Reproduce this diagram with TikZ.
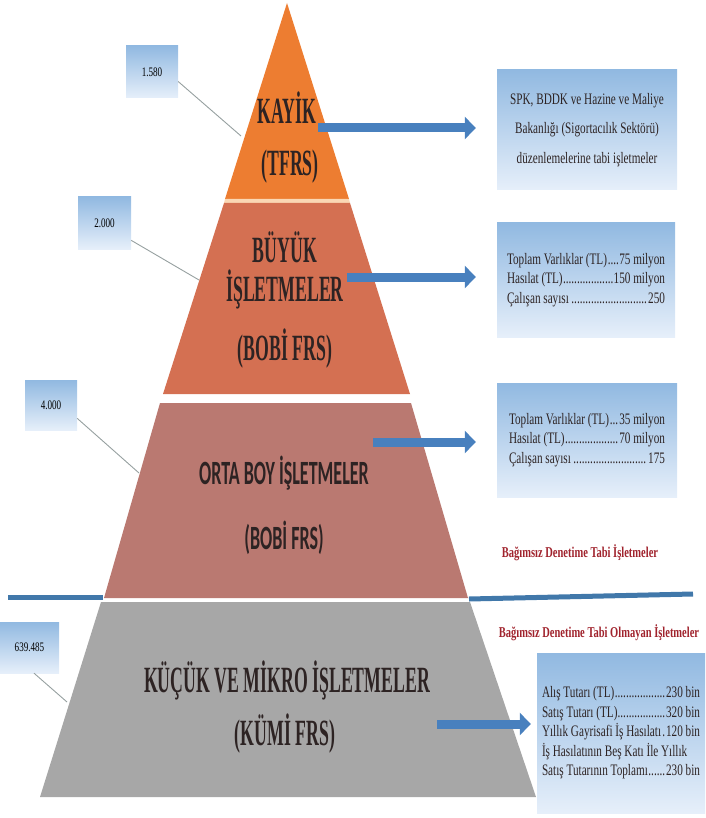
\documentclass[tikz,border=0pt]{standalone}
\usepackage{fontspec}
\usepackage{tikz}
\usetikzlibrary{positioning,arrows.meta}
\newfontfamily\layerSerif[FakeStretch=0.48]{Liberation Serif}
\newfontfamily\layerSans[FakeStretch=0.53]{Carlito}
\newfontfamily\boxSerif[FakeStretch=0.7]{Liberation Serif}
\definecolor{kayikOrange}{RGB}{237,125,49}
\definecolor{stripePeach}{RGB}{250,215,180}
\definecolor{buyukSalmon}{RGB}{212,112,82}
\definecolor{ortaRose}{RGB}{186,121,113}
\definecolor{kumiGrey}{RGB}{167,167,167}
\definecolor{boxBlue}{RGB}{145,185,225}
\definecolor{boxPale}{RGB}{230,239,250}
\definecolor{arrowBlue}{RGB}{72,128,190}
\definecolor{lineBlue}{RGB}{65,120,170}
\definecolor{leaderGrey}{RGB}{150,160,160}
\definecolor{labelRed}{RGB}{160,35,45}
\definecolor{textDark}{RGB}{45,35,35}
\tikzstyle{plan} = [x = 1pt, y = -1pt]
\tikzstyle{layerSerifText} = [text=textDark, inner sep=0pt, font=\layerSerif\bfseries\fontsize{37}{37}\selectfont]
\tikzstyle{layerSansText} = [text=textDark, inner sep=0pt, font=\layerSans\bfseries\fontsize{34}{34}\selectfont]
\tikzstyle{blueBox} = [top color=boxBlue, bottom color=boxPale, inner sep=0pt]
\tikzstyle{numberBoxStyle} = [blueBox, font=\boxSerif\fontsize{13}{13}\selectfont]
\tikzstyle{infoText} = [align=left, text=textDark, font=\boxSerif\fontsize{16}{19.5}\selectfont]
\tikzstyle{blockArrow} = [line width=9pt, arrowBlue, -{Triangle[length=11pt, width=22pt]}]
\tikzstyle{leaderLine} = [leaderGrey, line width=0.9pt]
\tikzstyle{dividerLine} = [lineBlue, line width=5pt]
\tikzstyle{auditText} = [text=labelRed, inner sep=0pt, font=\boxSerif\bfseries\fontsize{15}{15}\selectfont]
\newcommand{\layer}[2]{\fill [#1] #2 -- cycle;}
\newcommand{\numberBox}[6]{\node [numberBoxStyle, minimum width=#4, minimum height=#5] (#1) at (#2,#3) {#6};}
\newcommand{\infoBox}[6]{\node [blueBox, infoText, minimum width=#4, minimum height=#5] (#1) at (#2,#3) {#6};}
\newcommand{\dotRow}[3]{\hbox to #1{#2\leaders\hbox{.}\hfill#3}}

\begin{document}
\begin{tikzpicture}[plan]
        \useasboundingbox (0,0) rectangle (705,818);
        \layer{kayikOrange}{(287,3) -- (349,199) -- (225,199)}
        \layer{stripePeach}{(225,199) -- (349,199) -- (350,203) -- (224,203)}
        \layer{buyukSalmon}{(224,203) -- (350,203) -- (410,394) -- (163,394)}
        \layer{ortaRose}{(160,403) -- (411,403) -- (468,598) -- (104,598)}
        \layer{kumiGrey}{(101,602) -- (470,602) -- (536,797) -- (40,797)}

        \coordinate (edgeKayik) at (241,136);
        \coordinate (edgeBuyuk) at (199,280);
        \coordinate (edgeOrta) at (139,473);
        \coordinate (edgeKumi) at (67,702);
        \numberBox{nbKayik}{152}{72}{52pt}{52pt}{1.580}
        \numberBox{nbBuyuk}{104.5}{223}{53pt}{52pt}{2.000}
        \numberBox{nbOrta}{51}{405}{52pt}{50pt}{4.000}
        \numberBox{nbKumi}{29.5}{647.5}{59pt}{51pt}{639.485}
        \foreach \numberNode/\side/\edge in {nbKayik/-20/edgeKayik, nbBuyuk/-33/edgeBuyuk, nbOrta/-27/edgeOrta, nbKumi/-80/edgeKumi} {
          \draw [leaderLine] (\numberNode.\side) -- (\edge);
        }

        \coordinate (dividerLeftEnd) at (8,597);
        \coordinate (dividerLeftPyr) at (103,597);
        \coordinate (dividerRightPyr) at (469,599);
        \coordinate (dividerRightEnd) at (693,594);
        \draw [dividerLine] (dividerLeftEnd) -- (dividerLeftPyr);
        \draw [dividerLine] (dividerRightPyr) -- (dividerRightEnd);

        \infoBox{infoKayik}{587}{130}{180pt}{120pt}{\begin{tabular}{@{}c@{}}SPK, BDDK ve Hazine ve Maliye\\[10pt] Bakanlığı (Sigortacılık Sektörü)\\[10pt] düzenlemelerine tabi işletmeler\end{tabular}}
        \infoBox{infoBuyuk}{586}{280}{178pt}{114pt}{\dotRow{158pt}{Toplam Varlıklar (TL)}{75 milyon}\\ \dotRow{158pt}{Hasılat (TL)}{150 milyon}\\ \dotRow{158pt}{Çalışan sayısı}{250}}
        \infoBox{infoOrta}{587}{440}{180pt}{114pt}{\dotRow{156pt}{Toplam Varlıklar (TL)}{35 milyon}\\ \dotRow{156pt}{Hasılat (TL)}{70 milyon}\\ \dotRow{156pt}{Çalışan sayısı}{175}}
        \infoBox{infoKumi}{621}{733}{168pt}{160pt}{\dotRow{158pt}{Alış Tutarı (TL)}{230 bin}\\ \dotRow{158pt}{Satış Tutarı (TL)}{320 bin}\\ \dotRow{158pt}{Yıllık Gayrisafi İş Hasılatı}{120 bin}\\ İş Hasılatının Beş Katı İle Yıllık\\ \dotRow{158pt}{Satış Tutarının Toplamı}{230 bin}}

        \coordinate (arrowKayik) at (318,128);
        \coordinate (arrowBuyuk) at (347,277);
        \coordinate (arrowOrta) at (373,442);
        \coordinate (arrowKumi) at (437,724);
        \foreach \start/\target/\gap in {arrowKayik/infoKayik/21, arrowBuyuk/infoBuyuk/21, arrowOrta/infoOrta/21, arrowKumi/infoKumi/6} {
          \draw [blockArrow, shorten >=\gap pt] (\start) -- (\start -| \target.west);
        }

        \node [layerSerifText] (kayikName) at (287,108) {KAYİK};
        \node [layerSerifText] (kayikRule) at (290,167) {(TFRS)};
        \node [layerSerifText] (buyukName) at (285,247) {BÜYÜK};
        \node [layerSerifText] (buyukKind) at (285,289) {İŞLETMELER};
        \node [layerSerifText] (buyukRule) at (285,349) {(BOBİ FRS)};
        \node [layerSansText] (ortaName) at (284,473) {ORTA BOY İŞLETMELER};
        \node [layerSansText] (ortaRule) at (284,538) {(BOBİ FRS)};
        \node [layerSerifText] (kumiName) at (287,680) {KÜÇÜK VE MİKRO İŞLETMELER};
        \node [layerSerifText] (kumiRule) at (285,734) {(KÜMİ FRS)};

        \node [auditText] (auditYes) at (580,553) {Bağımsız Denetime Tabi İşletmeler};
        \node [auditText] (auditNo) at (599,633) {Bağımsız Denetime Tabi Olmayan İşletmeler};
      \end{tikzpicture}
\end{document}
